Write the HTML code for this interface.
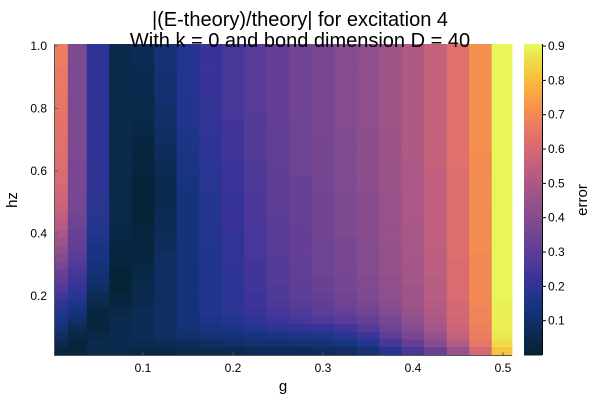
<!DOCTYPE html>
<html><head><meta charset="utf-8"><style>
html,body{margin:0;padding:0;background:#fff;}
svg{display:block;font-family:"Liberation Sans","DejaVu Sans",sans-serif;}
</style></head><body>
<svg id="chart" width="600" height="400" viewBox="0 0 600 400">
<g id="cells"></g>
<g id="cbar"></g>
<line x1="54.5" y1="44" x2="54.5" y2="355.5" stroke="#555" stroke-width="1"/>
<line x1="54" y1="355.5" x2="512" y2="355.5" stroke="#555" stroke-width="1"/>
<g id="xticks"></g>
<g id="yticks"></g>
<g id="cticks"></g>
<text x="300" y="26" text-anchor="middle" font-size="20" fill="#000">|(E-theory)/theory| for excitation 4</text>
<text x="300" y="47" text-anchor="middle" font-size="20" fill="#000">With k = 0 and bond dimension D = 40</text>
<text x="283" y="391" text-anchor="middle" font-size="15" fill="#000">g</text>
<text transform="translate(17,200) rotate(-90)" text-anchor="middle" font-size="15" fill="#000">hz</text>
<text transform="translate(587,200) rotate(-90)" text-anchor="middle" font-size="15" fill="#000">error</text>
</svg>
<script>
const gValues = [0.008,0.025,0.05,0.075,0.1,0.125,0.15,0.175,0.2,0.225,0.25,0.275,0.3,0.325,0.35,0.375,0.4,0.425,0.45,0.475,0.5];
const hzValues = [0.025,0.05,0.075,0.1,0.125,0.15,0.175,0.2,0.225,0.25,0.275,0.3,0.325,0.35,0.375,0.4,0.425,0.45,0.475,0.5,0.525,0.55,0.575,0.6,0.625,0.65,0.675,0.7,0.725,0.75,0.775,0.8,0.825,0.85,0.875,0.9,0.925,0.95,0.975,1.0];
const xTicks = [0.1,0.2,0.3,0.4,0.5];
const xTickLabels = ["0.1","0.2","0.3","0.4","0.5"];
const yTicks = [0.2,0.4,0.6,0.8,1.0];
const yTickLabels = ["0.2","0.4","0.6","0.8","1.0"];
const cTicks = [0.1,0.2,0.3,0.4,0.5,0.6,0.7,0.8,0.9];
const cTickLabels = ["0.1","0.2","0.3","0.4","0.5","0.6","0.7","0.8","0.9"];
// error values per g column, from hz=0.025 (bottom) to hz=1.0 (top)
const col00 = [.03,.06,.09,.12,.15,.18,.21,.24,.27,.30,.33,.37,.40,.43,.46,.49,.52,.54,.56,.58,.59,.60,.61,.61,.62,.62,.63,.63,.64,.64,.64,.65,.65,.65,.66,.66,.66,.67,.67,.67];
const col01 = [.02,.02,.04,.07,.10,.13,.16,.19,.21,.23,.25,.27,.29,.31,.32,.33,.34,.35,.36,.37,.37,.37,.37,.37,.37,.38,.38,.38,.38,.38,.38,.38,.38,.38,.38,.38,.38,.38,.38,.38];
const col02 = [.06,.05,.04,.02,.02,.03,.05,.07,.09,.11,.12,.13,.14,.15,.16,.17,.18,.19,.19,.19,.20,.20,.20,.20,.20,.20,.20,.20,.20,.20,.20,.20,.20,.20,.20,.20,.20,.20,.20,.20];
const col03 = [.05,.06,.06,.06,.05,.04,.03,.02,.01,.01,.01,.02,.02,.03,.03,.04,.04,.05,.05,.05,.05,.05,.05,.05,.05,.05,.05,.05,.05,.05,.05,.05,.05,.05,.05,.05,.05,.05,.05,.05];
const col04 = [.04,.06,.07,.07,.07,.07,.06,.06,.05,.05,.04,.04,.03,.03,.02,.02,.02,.01,.01,.01,.01,.01,.01,.02,.02,.02,.03,.03,.04,.04,.05,.05,.05,.06,.06,.06,.06,.07,.07,.07];
const col05 = [.04,.07,.09,.09,.09,.09,.09,.09,.09,.09,.09,.09,.09,.08,.08,.07,.07,.07,.06,.06,.06,.06,.06,.07,.07,.08,.08,.09,.09,.10,.10,.10,.11,.11,.11,.11,.12,.12,.12,.12];
const col06 = [.05,.08,.11,.12,.13,.13,.13,.13,.13,.13,.13,.13,.13,.13,.13,.13,.13,.13,.13,.13,.13,.14,.14,.15,.15,.15,.16,.16,.16,.17,.17,.17,.17,.18,.18,.18,.18,.18,.18,.18];
const col07 = [.06,.09,.12,.15,.16,.17,.17,.17,.17,.17,.17,.17,.17,.17,.18,.18,.18,.18,.18,.18,.18,.19,.19,.19,.20,.20,.20,.20,.21,.21,.21,.21,.21,.22,.22,.22,.22,.22,.22,.22];
const col08 = [.06,.10,.13,.16,.18,.19,.20,.20,.20,.20,.20,.21,.21,.21,.21,.21,.22,.22,.22,.22,.22,.23,.23,.23,.23,.24,.24,.24,.24,.24,.25,.25,.25,.25,.25,.25,.25,.25,.25,.25];
const col09 = [.07,.11,.14,.18,.21,.22,.23,.23,.24,.24,.24,.24,.25,.25,.25,.25,.26,.26,.26,.26,.26,.27,.27,.27,.27,.28,.28,.28,.28,.28,.28,.29,.29,.29,.29,.29,.29,.29,.29,.29];
const col10 = [.07,.11,.15,.20,.23,.25,.26,.27,.27,.28,.28,.28,.28,.29,.29,.29,.29,.29,.30,.30,.30,.30,.30,.31,.31,.31,.31,.31,.31,.32,.32,.32,.32,.32,.32,.32,.32,.32,.32,.32];
const col11 = [.07,.12,.16,.21,.25,.27,.29,.30,.30,.31,.31,.31,.32,.32,.32,.32,.32,.33,.33,.33,.33,.33,.33,.34,.34,.34,.34,.34,.34,.34,.35,.35,.35,.35,.35,.35,.35,.35,.35,.35];
const col12 = [.08,.12,.17,.22,.27,.30,.31,.32,.33,.33,.34,.34,.34,.34,.35,.35,.35,.35,.35,.35,.35,.36,.36,.36,.36,.36,.36,.36,.37,.37,.37,.37,.37,.37,.37,.37,.37,.37,.37,.37];
const col13 = [.09,.14,.19,.24,.29,.32,.34,.35,.36,.36,.36,.37,.37,.37,.37,.38,.38,.38,.38,.38,.38,.39,.39,.39,.39,.39,.39,.39,.39,.40,.40,.40,.40,.40,.40,.40,.40,.40,.40,.40];
const col14 = [.12,.18,.23,.28,.32,.35,.37,.38,.39,.39,.40,.40,.40,.40,.40,.41,.41,.41,.41,.41,.41,.42,.42,.42,.42,.42,.42,.42,.42,.43,.43,.43,.43,.43,.43,.43,.43,.43,.43,.43];
const col15 = [.18,.25,.30,.34,.37,.40,.41,.42,.43,.43,.44,.44,.44,.44,.45,.45,.45,.45,.45,.45,.45,.46,.46,.46,.46,.46,.46,.46,.46,.47,.47,.47,.47,.47,.47,.47,.47,.47,.47,.47];
const col16 = [.25,.32,.37,.41,.43,.45,.46,.47,.47,.48,.48,.48,.49,.49,.49,.49,.49,.50,.50,.50,.50,.50,.50,.50,.50,.51,.51,.51,.51,.51,.51,.51,.51,.51,.51,.51,.51,.51,.51,.51];
const col17 = [.33,.40,.45,.48,.50,.51,.52,.53,.53,.53,.54,.54,.54,.54,.55,.55,.55,.55,.55,.55,.55,.55,.55,.55,.56,.56,.56,.56,.56,.56,.56,.56,.56,.56,.56,.56,.56,.56,.56,.56];
const col18 = [.45,.52,.56,.58,.59,.60,.60,.61,.61,.61,.61,.61,.62,.62,.62,.62,.62,.62,.62,.62,.62,.62,.62,.62,.63,.63,.63,.63,.63,.63,.63,.63,.63,.63,.63,.63,.63,.63,.63,.63];
const col19 = [.60,.65,.67,.68,.69,.69,.70,.70,.70,.70,.70,.70,.70,.71,.71,.71,.71,.71,.71,.71,.71,.71,.71,.71,.71,.71,.72,.72,.72,.72,.72,.72,.72,.72,.72,.72,.72,.72,.72,.72];
const col20 = [.82,.86,.88,.89,.89,.89,.89,.90,.90,.90,.90,.90,.90,.90,.90,.90,.90,.90,.90,.90,.90,.90,.90,.90,.90,.90,.90,.90,.90,.90,.90,.90,.90,.90,.90,.90,.90,.90,.90,.90];
const errorColumns = [col00,col01,col02,col03,col04,col05,col06,col07,col08,col09,col10,col11,col12,col13,col14,col15,col16,col17,col18,col19,col20];

const NS = "http://www.w3.org/2000/svg";
const PL = 54.5, PR = 512, PT = 44, PB = 355.5;
const CMIN = 0.0, CMAX = 0.906;
function xScale(g){ return 143 + (g - 0.1) * 900; }
function yScale(h){ return 358.5 - h * 312.5; }
const stops = ["#042333","#0a2848","#112e62","#15347e","#23358f","#3b3399","#513a98","#643f95","#764692","#874d8e","#985289","#aa5885","#bd5f7f","#d06777","#e1716b","#ee805d","#f6934c","#f9ab42","#f5c33e","#eedd4a","#e8fa5b"];
function cmap(v){
  let t = (v - CMIN) / (CMAX - CMIN); t = Math.max(0, Math.min(1, t));
  const p = t * (stops.length - 1), i = Math.min(stops.length - 2, Math.floor(p)), f = p - i;
  const a = stops[i], b = stops[i+1];
  const c = k => Math.round(parseInt(a.substr(k,2),16)*(1-f) + parseInt(b.substr(k,2),16)*f);
  return `rgb(${c(1)},${c(3)},${c(5)})`;
}
function mk(tag, attrs, parent){ const e = document.createElementNS(NS, tag); for (const k in attrs) e.setAttribute(k, attrs[k]); parent.appendChild(e); return e; }

const cells = document.getElementById('cells');
for (let ci = 0; ci < gValues.length; ci++){
  const gl = ci === 0 ? PL : xScale((gValues[ci-1] + gValues[ci]) / 2);
  const gr = ci === gValues.length - 1 ? PR : xScale((gValues[ci] + gValues[ci+1]) / 2);
  for (let ri = 0; ri < hzValues.length; ri++){
    const hb = ri === 0 ? hzValues[0] - 0.0125 : (hzValues[ri-1] + hzValues[ri]) / 2;
    const ht = ri === hzValues.length - 1 ? hzValues[ri] + 0.0125 : (hzValues[ri] + hzValues[ri+1]) / 2;
    const y1 = Math.max(PT, yScale(ht)), y2 = Math.min(PB, yScale(hb));
    const r = mk('rect', {x: gl, y: y1, width: gr - gl + 0.4, height: y2 - y1 + 0.4, fill: cmap(errorColumns[ci][ri])}, cells);
    
    
  }
}
const xt = document.getElementById('xticks');
xTicks.forEach((v, i) => {
  const x = xScale(v);
  mk('line', {x1: x, y1: PB, x2: x, y2: PB - 3, stroke: '#555'}, xt);
  const t = mk('text', {x: x, y: 372, 'text-anchor': 'middle', 'font-size': 12, fill: '#000'}, xt);
  t.textContent = xTickLabels[i];
  
  
});
const yt = document.getElementById('yticks');
yTicks.forEach((v, i) => {
  const y = yScale(v);
  mk('line', {x1: PL, y1: y, x2: PL + 3, y2: y, stroke: '#555'}, yt);
  const t = mk('text', {x: 47, y: y + 4, 'text-anchor': 'end', 'font-size': 12, fill: '#000'}, yt);
  t.textContent = yTickLabels[i];
  
  
});
// colorbar
const CX = 524, CW = 18, CT = 44, CB = 355;
function cY(v){ return CB - (v - CMIN) / (CMAX - CMIN) * (CB - CT); }
const cb = document.getElementById('cbar');
for (let k = 0; k < 200; k++){
  const v0 = CMIN + (CMAX - CMIN) * k / 200, v1 = CMIN + (CMAX - CMIN) * (k + 1) / 200;
  mk('rect', {x: CX, y: cY(v1), width: CW, height: cY(v0) - cY(v1) + 0.5, fill: cmap((v0 + v1) / 2)}, cb);
}
mk('line', {x1: CX + CW + 0.5, y1: CT, x2: CX + CW + 0.5, y2: CB, stroke: '#000', 'stroke-width': 1}, cb);
const ct = document.getElementById('cticks');
cTicks.forEach((v, i) => {
  const y = cY(v);
  mk('line', {x1: CX + CW, y1: y, x2: CX + CW + 4, y2: y, stroke: '#000'}, ct);
  const t = mk('text', {x: 548, y: y + 4, 'font-size': 12, fill: '#000'}, ct);
  t.textContent = cTickLabels[i];
  
  
});
</script>
</body></html>
